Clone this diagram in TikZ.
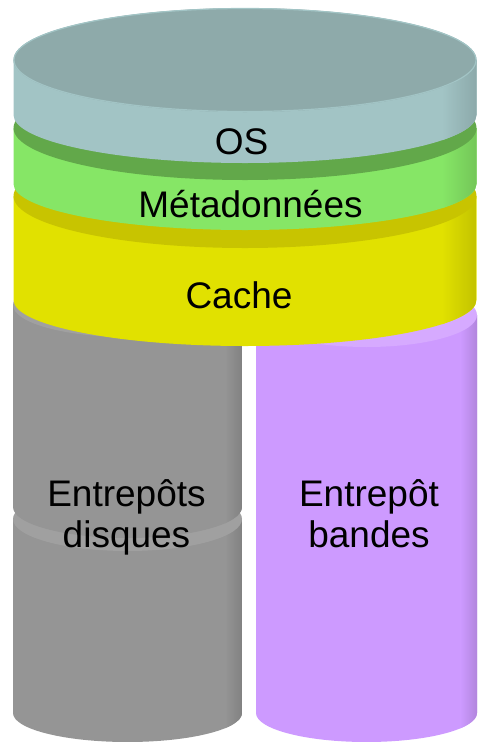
\documentclass[tikz,border=0pt]{standalone}
\usepackage{fontspec}
\setmainfont{Liberation Sans}
\definecolor{osSide}{HTML}{A2C4C5}
\definecolor{osTop}{HTML}{8EAAAA}
\definecolor{greenSide}{HTML}{86E666}
\definecolor{greenTop}{HTML}{62A84A}
\definecolor{yellowSide}{HTML}{E1E100}
\definecolor{yellowTop}{HTML}{C8C400}
\definecolor{graySide}{HTML}{959595}
\definecolor{grayTop}{HTML}{A0A0A0}
\definecolor{purpleSide}{HTML}{CD9AFF}
\definecolor{purpleTop}{HTML}{D6AAFF}
% cx, rx, y of top centre, ry top, y of bottom centre, ry bottom, side colour, top colour
\newcommand\layercyl[8]{%
  \begin{scope}
    \clip (#1-#2,-#3) -- (#1-#2,-#5) arc[start angle=180,end angle=360,x radius=#2,y radius=#6] -- (#1+#2,-#3) -- cycle;
    \fill[#7] (#1-#2-1,-#3+1) rectangle (#1+#2+1,-#5-#6-1);
    \shade[left color=#7, right color=#7!86!black] (#1+0.85*#2,-#3+1) rectangle (#1+#2+1,-#5-#6-1);
  \end{scope}
  \fill[#8] (#1,-#3) ellipse[x radius=#2,y radius=#4];
}
\tikzset{lbl/.style={font=\fontsize{37}{41}\selectfont, inner sep=0pt, text=black}}
\begin{document}
\begin{tikzpicture}[x=1pt,y=1pt]
\useasboundingbox (0,0) rectangle (477,-742);
% storage cylinders
\layercyl{127.5}{114.5}{519}{32}{713}{29}{graySide}{grayTop}
\layercyl{127.5}{114.5}{305}{32}{507}{31}{graySide}{grayTop}
\layercyl{366.5}{110.5}{315}{32}{713}{29}{purpleSide}{purpleTop}
% stacked disks
\layercyl{245}{231.5}{196}{52}{300}{46}{yellowSide}{yellowTop}
\layercyl{245}{231.5}{128}{52}{184}{46}{greenSide}{greenTop}
\layercyl{245}{231.5}{60}{52}{115}{48}{osSide}{osTop}
\draw[osSide, line width=1.2pt] (245,-60) ellipse[x radius=231,y radius=51.5];
% labels
\node[lbl, anchor=base] (os) at (241.5,-154) {OS};
\node[lbl, anchor=base] (meta) at (250.5,-217) {Métadonnées};
\node[lbl, anchor=base] (cache) at (239,-308) {Cache};
\node[lbl, align=center, anchor=base] (disk) at (126.5,-547) {Entrepôts\\disques};
\node[lbl, align=center, anchor=base] (tape) at (369,-547) {Entrepôt\\bandes};
\end{tikzpicture}
\end{document}
